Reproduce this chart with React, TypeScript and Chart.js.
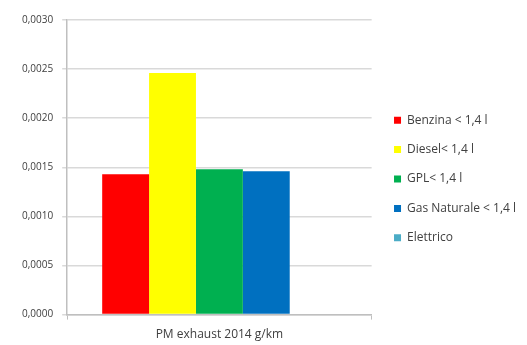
import React, { useEffect, useRef } from "react";
import { Chart, registerables } from "chart.js";

Chart.register(...registerables);

const categories = ["PM exhaust 2014 g/km"];
const seriesNames = ["Benzina < 1,4 l", "Diesel< 1,4 l", "GPL< 1,4 l", "Gas Naturale < 1,4 l", "Elettrico"];
const benzina = [0.00143];
const diesel = [0.00246];
const gpl = [0.00148];
const gasNaturale = [0.00146];
const elettrico = [0];
const seriesColors = ["#ff0000", "#ffff00", "#00b050", "#0070c0", "#4bacc6"];

const legendShift = {
  id: "legendShift",
  afterLayout(chart: any) {
    const lg = chart.legend;
    if (lg) {
      lg.top -= 6;
      lg.bottom -= 6;
      lg.left += 5;
      lg.right += 5;
    }
  },
};

export default function App() {
  const ref = useRef<HTMLCanvasElement>(null);
  useEffect(() => {
    const values = [benzina, diesel, gpl, gasNaturale, elettrico];
    const chart = new Chart(ref.current!, {
      type: "bar",
      data: {
        labels: categories,
        datasets: seriesNames.map((n, i) => ({
          label: n,
          data: values[i],
          backgroundColor: seriesColors[i],
          borderWidth: 0,
          categoryPercentage: 0.77,
          barPercentage: 1,
        })),
      },
      options: {
        animation: false,
        responsive: false,
        maintainAspectRatio: false,
        layout: { padding: { top: 20, right: 6, bottom: -5, left: 13 } },
        plugins: {
          tooltip: { enabled: false },
          legend: {
            position: "right",
            align: "center",
            maxWidth: 220,
            labels: {
              boxWidth: 7,
              boxHeight: 7,
              padding: 17.4,
              color: "#404040",
              font: { family: "Open Sans", size: 12 },
            },
          },
        },
        scales: {
          x: {
            grid: { display: true, drawOnChartArea: false, tickLength: 5, color: "#bfbfbf", offset: true },
            border: { color: "#bfbfbf", width: 1.5 },
            ticks: { color: "#404040", font: { family: "Open Sans", size: 12 }, padding: 8 },
          },
          y: {
            min: 0,
            max: 0.003,
            ticks: {
              stepSize: 0.0005,
              color: "#404040",
              padding: 9,
              font: { family: "Open Sans", size: 10 },
              callback: (v: any) => Number(v).toFixed(4).replace(".", ","),
            },
            grid: { color: "#d9d9d9", lineWidth: 1.5, tickLength: 5 },
            border: { color: "#bfbfbf", width: 1.5 },
          },
        },
      },
      plugins: [legendShift],
    });
    return () => chart.destroy();
  }, []);
  return (
    <div style={{ position: "fixed", left: 0, top: 0, width: 527, height: 345, background: "#fff" }}>
      <canvas ref={ref} width={527} height={345} style={{ width: 527, height: 345 }} />
    </div>
  );
}
